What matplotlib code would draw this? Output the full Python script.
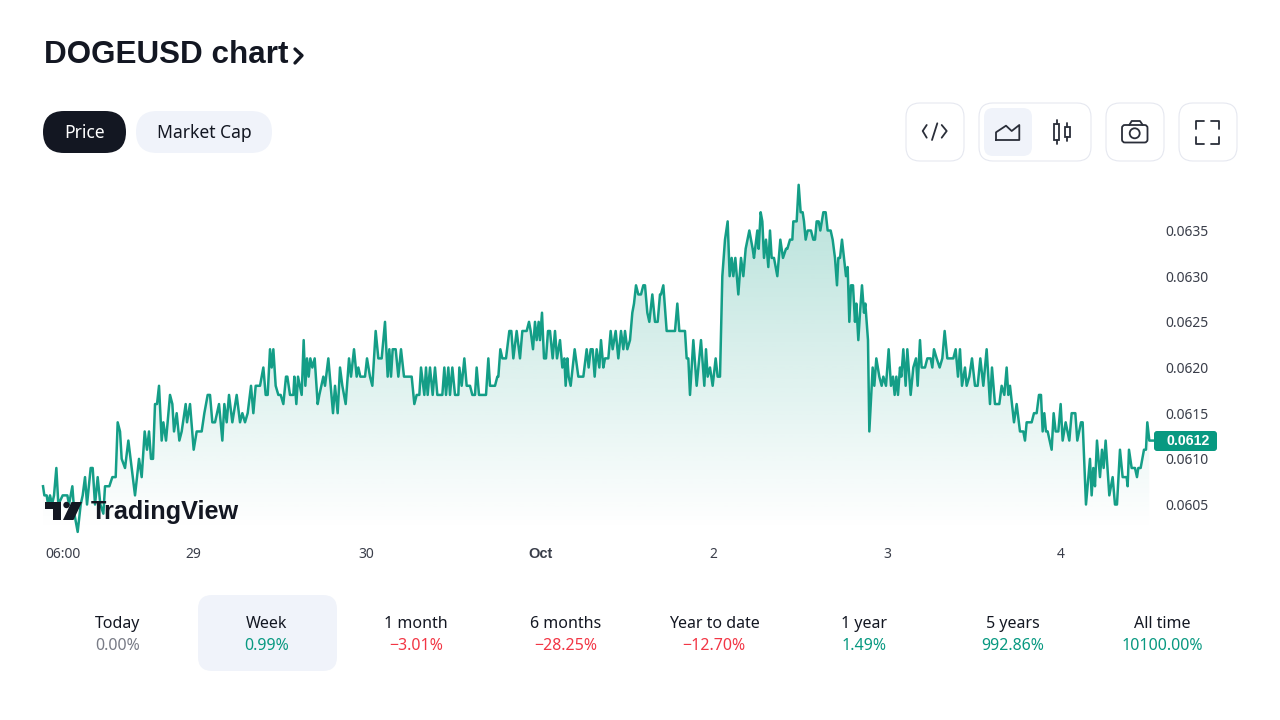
import numpy as np
import matplotlib
matplotlib.use("Agg")
import matplotlib.pyplot as plt
from matplotlib.patches import FancyBboxPatch, Rectangle, Circle, Polygon
from matplotlib.lines import Line2D

plt.rcParams['font.family'] = ['Noto Sans', 'DejaVu Sans']
BOLD = ['Liberation Sans', 'DejaVu Sans']

TITLE = "DOGEUSD chart"
TABS = ["Price", "Market Cap"]
PERIODS = ["Today", "Week", "1 month", "6 months", "Year to date", "1 year", "5 years", "All time"]
CHANGES = ["0.00%", "0.99%", "\u22123.01%", "\u221228.25%", "\u221212.70%", "1.49%", "992.86%", "10100.00%"]
PRICE_TICKS = [0.0605, 0.0610, 0.0615, 0.0620, 0.0625, 0.0630, 0.0635]
TIME_TICKS_H = [-18, 0, 24, 48, 72, 96, 120]
TIME_LABELS = ["06:00", "29", "30", "Oct", "2", "3", "4"]
LAST_PRICE = 0.0612

# time readings (1 unit = 1/520.8 day) and prices (in 0.0001 USD), section by section
t1 = [9,13,20,24,30,36,42,49,55,68,82,87,97,103,113,122,128,135,141,152,158,165,173,181,190,195,208,217,227,233,240,245,255,265,275,285,297,305,314,321,327,333,339,345,351,357,365,370,378,390,397,402,410,418,425,437,441,450,461,470,485,493,503,510,517,525,537,547,553,560,567]
p1 = [607,606,606,605,606,605,606,609,605,606,606,605,607,604,602,605,606,608,605,609,609,605,608,605,604,607,607,608,608,614,613,610,609,612,609,606,610,608,613,611,613,610,610,616,616,618,612,614,612,617,616,613,615,612,613,616,614,616,611,613,613,615,617,617,614,614,616,612,616,614,617]
t2 = [22,35,45,52,60,68,78,85,92,100,105,115,122,128,135,140,145,152,160,167,175,183,187,195,205,208,214,219,230,236,241,246,251,256,262,269,278,283,295,300,310,324,330,338,345,352,362,372,378,387,395,400,406,420,426,435,442,452,460,470,480,488,493,498,503,512,520,528,537,560,568]
p2 = [614,617,614,615,614,615,618,615,618,618,618,620,617,617,622,620,622,618,617,617,616,619,619,617,617,619,616,619,617,623,618,621,619,621,620,621,616,617,619,618,621,615,618,615,620,618,616,621,619,622,619,620,619,619,621,619,618,624,621,621,625,619,622,619,622,622,619,622,619,619,616]
t3 = [20,28,33,43,48,53,60,68,75,82,97,103,108,115,120,127,135,145,148,155,163,170,180,187,195,200,207,228,235,240,255,262,265,271,277,288,298,304,310,320,330,337,350,357,362,369,375,380,386,390,396,402,408,414,420,428,435,441,450,457,463,467,472,476,482,494,505,520,530,536,542,548,554,560,568]
p3 = [617,617,620,617,620,617,620,617,620,617,617,620,617,620,617,620,617,617,620,618,621,618,618,617,617,620,617,617,621,618,618,619,619,622,621,621,624,624,621,624,621,624,624,625,624,622,625,623,625,623,626,621,621,624,624,621,624,621,623,620,621,618,621,619,618,622,619,619,622,620,622,622,619,622,620]
t4 = [18,25,30,40,47,53,62,70,78,85,90,97,105,112,117,123,130,138,145,150,157,163,172,180,188,195,198,205,215,240,247,253,270,275,280,285,295,305,318,328,333,338,345,353,362,368,375,382,390,398,404,410,415,421,430,438,445,452,463,473,477,487,491,497,502,507,513,520,525,530,537,547]
p4 = [623,620,621,621,624,622,624,621,624,622,624,622,623,626,627,629,628,628,629,629,626,625,628,625,625,628,628,629,624,624,627,624,624,621,621,617,623,618,623,618,622,619,620,618,621,619,619,630,634,636,630,632,630,632,628,632,630,633,635,633,632,635,633,637,636,632,634,631,635,632,632,630]
t5 = [1,9,18,22,30,37,40,50,56,62,68,72,77,83,93,100,105,110,116,121,130,137,143,152,158,165,171,175,180,186,192,198,203,208,213,219,225,229,235,240,246,252,256,260,264,268,278,283,289,298,305,310,318,326,333,339,344,349,354,360,364,370,377,382,392,400,408,413,420,425,435,442,452,457,462,470,479,487,494,502,520,527,534,540,546,555,560,568]
p5 = [634,632,633,633,634,634,636,636,640,637,637,636,634,635,635,634,634,636,636,635,637,637,635,635,634,632,629,632,632,634,632,630,631,625,629,629,625,627,623,626,629,626,627,625,623,613,620,618,621,619,618,619,618,622,618,619,617,619,617,620,619,622,618,622,617,620,621,618,623,620,620,621,621,620,622,621,620,621,624,621,621,622,619,622,618,620,618,619]
t6 = [21,30,38,46,55,65,75,81,90,103,110,118,125,130,135,147,155,165,175,180,185,200,207,215,222,228,233,238,243,248,260,266,272,280,287,293,302,313,320,331,337,348,353,363,375,380,385,390,396,405,411,416,422,433,443,450,456,465,473,485,488,492,500,510,516,520,527,537,543,547,553,560,566]
p6 = [621,618,618,621,618,622,616,620,616,616,618,617,620,617,618,614,616,613,613,612,614,614,615,615,617,617,613,615,613,613,611,615,613,613,616,612,614,612,615,615,612,614,614,605,610,606,609,607,612,608,611,609,612,606,608,605,605,611,608,608,607,611,609,609,608,609,609,611,611,614,612,612,612]

OFFSETS = [-9, 546, 1101, 1656, 2211, 2766]
times = np.concatenate([np.array(t) + o for t, o in zip([t1, t2, t3, t4, t5, t6], OFFSETS)], dtype=float)
prices = np.concatenate([p1, p2, p3, p4, p5, p6], dtype=float) * 1e-4
hours = (times - 450) / 520.8 * 24

INK = "#131722"; ICON = "#2a2e39"; GREY = "#787b86"; TEAL = "#089981"; RED = "#f23645"; PALE = "#f0f3fa"; EDGE = "#e6e8f0"
W, H = 1280, 720
fig = plt.figure(figsize=(12.8, 7.2), dpi=100, facecolor="white")

# chart pane spans x 43-1154 px, y 180-530 px
ax = fig.add_axes([43 / W, 1 - 530 / H, (1154 - 43) / W, 350 / H])
ax.set_xlim(-20.74, 132.86)
ax.set_ylim(0.060221, 0.064053)
ax.patch.set_alpha(0)
for s in ax.spines.values():
    s.set_visible(False)

fill_end = hours[0] + (1150 - 43) * 3 / 520.8 * 24
keep = hours <= fill_end
fx = np.concatenate([[hours[keep][0]], hours[keep], [hours[keep][-1]]])
fy = np.concatenate([[0.060221], prices[keep], [0.060221]])
clip = Polygon(np.column_stack([fx, fy]), closed=True, transform=ax.transData, facecolor="none", edgecolor="none")
ax.add_patch(clip)
grad = np.zeros((256, 1, 4))
grad[..., :3] = matplotlib.colors.to_rgb(TEAL)
grad[..., 3] = np.linspace(0.30, 0.0, 256)[:, None]
im = ax.imshow(grad, extent=[-20.74, 132.86, 0.060221, 0.064053], origin="upper", aspect="auto", zorder=1, interpolation="bilinear")
im.set_clip_path(clip)
ax.plot(hours, prices, color=TEAL, lw=1.8, alpha=0.95, solid_joinstyle="round", zorder=2, clip_on=False)

ax.yaxis.tick_right()
ax.set_yticks(PRICE_TICKS)
ax.set_yticklabels([f"{v:.4f}" for v in PRICE_TICKS], fontsize=10, color="#3a3e4a")
ax.set_xticks(TIME_TICKS_H)
ax.set_xticklabels(TIME_LABELS, fontsize=10, color="#3a3e4a")
oct_label = ax.get_xticklabels()[3]
oct_label.set_family(BOLD); oct_label.set_fontweight("bold"); oct_label.set_fontsize(10.5)
ax.tick_params(axis="both", length=0)
ax.tick_params(axis="y", pad=8.5)
ax.tick_params(axis="x", pad=12.5)

# page furniture in pixel coordinates
ui = fig.add_axes([0, 0, 1, 1], zorder=5)
ui.set_xlim(0, W); ui.set_ylim(H, 0); ui.axis("off"); ui.patch.set_alpha(0)

def box(x0, y0, x1, y1, r, fc="none", ec="none", lw=0.8):
    ui.add_patch(FancyBboxPatch((x0 + r, y0 + r), x1 - x0 - 2 * r, y1 - y0 - 2 * r,
                                boxstyle=f"round,pad={r},rounding_size={r}", fc=fc, ec=ec, lw=lw))

def stroke(xs, ys, lw=1.3, color=ICON):
    ui.add_line(Line2D(xs, ys, color=color, lw=lw, solid_capstyle="round", solid_joinstyle="round"))

ui.text(44, 63.3, TITLE, fontsize=22.6, fontweight="bold", family=BOLD, color=INK, ha="left", va="baseline")
stroke([295, 302, 295], [49, 55.5, 63], lw=2.4, color=INK)

box(43, 111, 126, 153, 21, fc=INK)
box(136, 111, 272, 153, 21, fc=PALE)
ui.text(84.5, 133, TABS[0], fontsize=12.6, color="white", ha="center", va="center")
ui.text(204, 133, TABS[1], fontsize=12.6, color=INK, ha="center", va="center")

box(906, 103, 964, 161, 14, fc="white", ec=EDGE)
box(979, 103, 1091, 161, 14, fc="white", ec=EDGE)
box(984, 108, 1032, 156, 9, fc=PALE)
box(1106, 103, 1164, 161, 14, fc="white", ec=EDGE)
box(1179, 103, 1237, 161, 14, fc="white", ec=EDGE)

stroke([926.7, 922.7, 926.7], [125, 131, 137.7])
stroke([937.3, 932], [123.3, 140])
stroke([941.7, 946.7, 941.7], [125, 131, 137.7])
stroke([996, 996, 1006, 1011.7, 1019.3, 1019.3, 996], [140, 132.3, 125.7, 131, 125, 140, 140])
ui.add_patch(Rectangle((1054.3, 124.3), 5, 15.7, fc="none", ec=ICON, lw=1.3))
stroke([1057, 1057], [120, 124.3]); stroke([1057, 1057], [140, 144.3])
ui.add_patch(Rectangle((1065, 127.3), 4.7, 9.4, fc="none", ec=ICON, lw=1.3))
stroke([1067.3, 1067.3], [123.3, 127.3]); stroke([1067.3, 1067.3], [136.7, 141])
box(1122, 125, 1147.5, 142.5, 3, ec=ICON, lw=1.3)
stroke([1129.3, 1131.7, 1140, 1142.7], [125, 121, 121, 125])
ui.add_patch(Circle((1134.7, 133.3), 5, fc="none", ec=ICON, lw=1.3))
stroke([1196, 1196, 1204], [128.5, 121, 121])
stroke([1211, 1219.3, 1219.3], [121, 121, 128.5])
stroke([1219.3, 1219.3, 1211], [136.5, 144, 144])
stroke([1204, 1196, 1196], [144, 144, 136.5])

# last-price tag
box(1154, 431, 1217, 451, 3, fc=TEAL)
ui.text(1188.5, 441, f"{LAST_PRICE:.4f}", fontsize=10.2, fontweight="bold", family=BOLD, color="white", ha="center", va="center")

# watermark
ui.add_patch(Polygon([(45, 502), (61, 502), (61, 520), (53, 520), (53, 508.5), (45, 508.5)], fc=INK, ec="none"))
ui.add_patch(Circle((66.5, 505), 3.2, fc=INK, ec="none"))
ui.add_patch(Polygon([(71.5, 502), (82, 502), (73.5, 520), (63, 520)], fc=INK, ec="none"))
ui.text(91, 519.5, "TradingView", fontsize=18.2, fontweight="bold", family=BOLD, color=INK, ha="left", va="baseline")

# period stats
box(198, 595, 337, 671, 14, fc=PALE)
centers = [118, 267, 416, 566, 714, 864, 1013, 1162]
colors = [GREY, TEAL, RED, RED, RED, TEAL, TEAL, TEAL]
for cx, name, chg, col in zip(centers, PERIODS, CHANGES, colors):
    ui.text(cx, 623.5, name, fontsize=11.5, color=INK, ha="center", va="center")
    ui.text(cx, 645.5, chg, fontsize=11.5, color=col, ha="center", va="center")

fig.savefig("out.png", dpi=100, facecolor="white")
